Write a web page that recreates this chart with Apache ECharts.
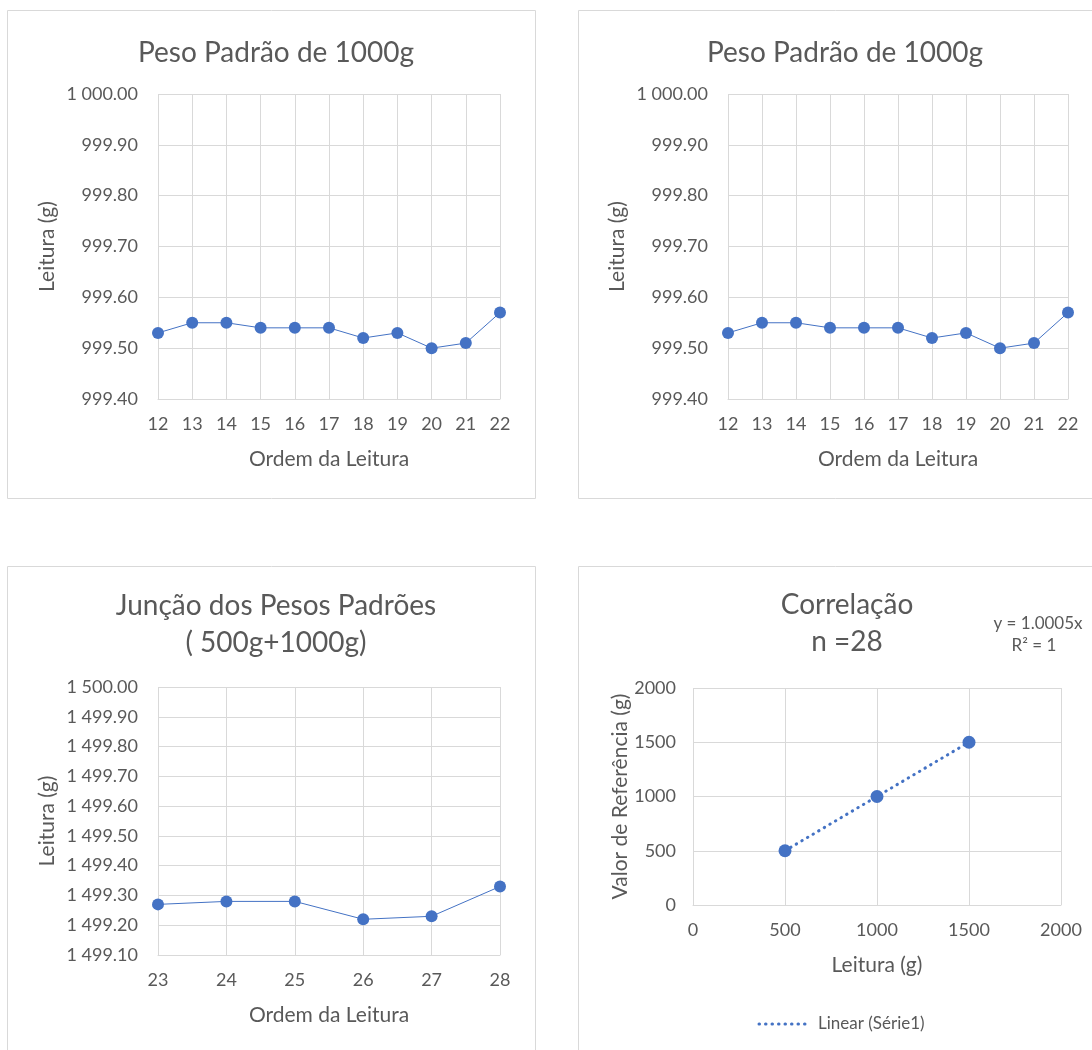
<!DOCTYPE html>
<html>
<head>
<meta charset="utf-8">
<script src="https://cdn.jsdelivr.net/npm/echarts@6/dist/echarts.min.js"></script>
<style>
  html, body { margin: 0; padding: 0; background: #fff; }
  #chart { width: 1092px; height: 1050px; }
</style>
</head>
<body>
<div id="chart"></div>
<script>
// Readings of the 1000 g standard weight (orders 12..22)
const orders1000 = ['12', '13', '14', '15', '16', '17', '18', '19', '20', '21', '22'];
const readings1000 = [999.53, 999.55, 999.55, 999.54, 999.54, 999.54, 999.52, 999.53, 999.50, 999.51, 999.57];

// Readings of the combined standards 500 g + 1000 g (orders 23..28)
const ordersCombined = ['23', '24', '25', '26', '27', '28'];
const readingsCombined = [1499.27, 1499.28, 1499.28, 1499.22, 1499.23, 1499.33];

// Correlation: reading vs. reference value
const corrReadings = [500, 1000, 1500];
const corrReference = [500, 1000, 1500];
const trendSlope = 1.0005;
const trendR2 = 1;
const trendName = 'Linear (Série1)';

const FONT = 'Lato, "Open Sans", sans-serif';
const TXT = '#595959';
const GRID = '#d9d9d9';
const BLUE = '#4472C4';

function fmtThousands(v) {
  const s = Number(v).toFixed(2);
  const parts = s.split('.');
  return parts[0].replace(/\B(?=(\d{3})+(?!\d))/g, ' ') + '.' + parts[1];
}

const chart = echarts.init(document.getElementById('chart'), null, { renderer: 'canvas' });

const nameStyle = { color: TXT, fontSize: 21, fontFamily: FONT };
const tickStyle = { color: TXT, fontSize: 18, fontFamily: FONT };

function catAxis(gridIndex, data) {
  return {
    type: 'category', gridIndex, data, boundaryGap: false,
    name: 'Ordem da Leitura', nameLocation: 'middle', nameGap: 50,
    nameTextStyle: nameStyle,
    axisLine: { lineStyle: { color: GRID, width: 1 } },
    axisTick: { show: false },
    axisLabel: Object.assign({ margin: 16 }, tickStyle),
    splitLine: { show: true, lineStyle: { color: GRID, width: 1 } }
  };
}

function valAxis(gridIndex, min, max) {
  return {
    type: 'value', gridIndex, min, max, interval: 0.1,
    name: 'Leitura (g)', nameLocation: 'middle', nameGap: 100,
    nameTextStyle: nameStyle,
    axisLine: { show: false }, axisTick: { show: false },
    axisLabel: Object.assign({ margin: 20, formatter: fmtThousands }, tickStyle),
    splitLine: { lineStyle: { color: GRID, width: 1 } }
  };
}

const lineSeries = (idx, data) => ({
  type: 'line', xAxisIndex: idx, yAxisIndex: idx, data,
  symbol: 'circle', symbolSize: 12,
  itemStyle: { color: BLUE },
  lineStyle: { color: BLUE, width: 1 },
  silent: true, animation: false
});

const titleStyle = { color: TXT, fontSize: 28, fontWeight: 'normal', fontFamily: FONT, lineHeight: 37 };

const option = {
  animation: false,
  title: [
    { text: 'Peso Padrão de 1000g', left: 271, top: 29, textAlign: 'center', textStyle: titleStyle },
    { text: 'Peso Padrão de 1000g', left: 840, top: 29, textAlign: 'center', textStyle: titleStyle },
    { text: 'Junção dos Pesos Padrões\n( 500g+1000g)', left: 271, top: 582, textAlign: 'center', textStyle: titleStyle },
    { text: 'Correlação\nn =28', left: 842, top: 581, textAlign: 'center', textStyle: titleStyle }
  ],
  grid: [
    { left: 158, top: 94, width: 342, height: 305 },
    { left: 728, top: 94, width: 340, height: 305 },
    { left: 158, top: 687, width: 342, height: 268 },
    { left: 693, top: 688, width: 368, height: 217 }
  ],
  xAxis: [
    catAxis(0, orders1000),
    catAxis(1, orders1000),
    catAxis(2, ordersCombined),
    {
      type: 'value', gridIndex: 3, min: 0, max: 2000, interval: 500,
      name: 'Leitura (g)', nameLocation: 'middle', nameGap: 50,
      nameTextStyle: nameStyle,
      axisLine: { show: true, lineStyle: { color: GRID, width: 1 } },
      axisTick: { show: false },
      axisLabel: Object.assign({ margin: 16, formatter: v => String(v) }, tickStyle),
      splitLine: { show: true, lineStyle: { color: GRID, width: 1 } }
    }
  ],
  yAxis: [
    valAxis(0, 999.4, 1000.0),
    valAxis(1, 999.4, 1000.0),
    valAxis(2, 1499.1, 1500.0),
    {
      type: 'value', gridIndex: 3, min: 0, max: 2000, interval: 500,
      name: 'Valor de Referência (g)', nameLocation: 'middle', nameGap: 58,
      nameTextStyle: nameStyle,
      axisLine: { show: false }, axisTick: { show: false },
      axisLabel: Object.assign({ margin: 17, formatter: v => String(v) }, tickStyle),
      splitLine: { lineStyle: { color: GRID, width: 1 } }
    }
  ],
  series: [
    lineSeries(0, readings1000),
    lineSeries(1, readings1000),
    lineSeries(2, readingsCombined),
    {
      name: trendName,
      type: 'line', xAxisIndex: 3, yAxisIndex: 3,
      data: [
        [Math.min(...corrReadings), trendSlope * Math.min(...corrReadings)],
        [Math.max(...corrReadings), trendSlope * Math.max(...corrReadings)]
      ],
      symbol: 'none', z: 1,
      lineStyle: { color: BLUE, width: 3, type: [0.5, 6], cap: 'round' },
      silent: true
    },
    {
      name: 'Série1',
      type: 'scatter', xAxisIndex: 3, yAxisIndex: 3,
      data: corrReadings.map((x, i) => [x, corrReference[i]]),
      symbol: 'circle', symbolSize: 13, z: 3,
      itemStyle: { color: BLUE, opacity: 1 },
      silent: true
    }
  ],
  graphic: [
    // panel frames
    { type: 'rect', shape: { x: 7.5, y: 10.5, width: 528, height: 488 }, style: { fill: null, stroke: GRID, lineWidth: 1 }, z: -10 },
    { type: 'rect', shape: { x: 578.5, y: 10.5, width: 530, height: 488 }, style: { fill: null, stroke: GRID, lineWidth: 1 }, z: -10 },
    { type: 'rect', shape: { x: 7.5, y: 566.5, width: 528, height: 500 }, style: { fill: null, stroke: GRID, lineWidth: 1 }, z: -10 },
    { type: 'rect', shape: { x: 578.5, y: 566.5, width: 530, height: 500 }, style: { fill: null, stroke: GRID, lineWidth: 1 }, z: -10 },
    // trendline equation
    { type: 'text', x: 1038, y: 624, style: { text: 'y = ' + trendSlope.toFixed(4) + 'x', fill: TXT, fontSize: 17, fontFamily: FONT, align: 'center', verticalAlign: 'middle' } },
    { type: 'text', x: 1034, y: 646, style: { text: 'R² = ' + trendR2, fill: TXT, fontSize: 17, fontFamily: FONT, align: 'center', verticalAlign: 'middle' } },
    // trendline legend entry
    { type: 'line', shape: { x1: 759, y1: 1024, x2: 808, y2: 1024 }, style: { stroke: BLUE, lineWidth: 3, lineDash: [0.5, 6], lineCap: 'round' } },
    { type: 'text', x: 818, y: 1024, style: { text: trendName, fill: TXT, fontSize: 17, fontFamily: FONT, align: 'left', verticalAlign: 'middle' } }
  ]
};

chart.setOption(option);
</script>
</body>
</html>
